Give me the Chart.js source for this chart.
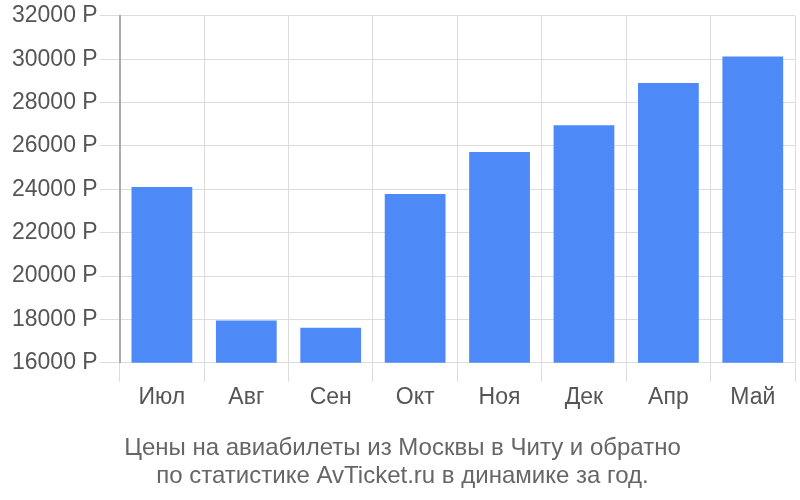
<!DOCTYPE html>
<html><head><meta charset="utf-8">
<script src="https://cdn.jsdelivr.net/npm/chart.js@4"></script>
<style>html,body{margin:0;padding:0;background:#fff}#w{width:800px;height:500px}</style>
</head><body><div id="w"><canvas id="c" width="800" height="500"></canvas></div>
<script>
const categories = ["Июл","Авг","Сен","Окт","Ноя","Дек","Апр","Май"];
const prices = [24100, 17950, 17620, 23780, 25720, 26950, 28900, 30120];
const yTicks = [16000,18000,20000,22000,24000,26000,28000,30000,32000];
const titleLines = ["Цены на авиабилеты из Москвы в Читу и обратно","по статистике AvTicket.ru в динамике за год."];
const FONT = 'Liberation Sans, Arial, sans-serif';

new Chart(document.getElementById('c'), {
  type: 'bar',
  data: { labels: categories, datasets: [{ data: prices, backgroundColor: '#4d8af8', borderWidth: 0 }] },
  options: {
    responsive: false, animation: false,
    layout: { padding: { left: 10, right: 5, top: 2, bottom: 9 } },
    plugins: {
      legend: { display: false }, tooltip: { enabled: false },
      title: { display: true, position: 'bottom', text: titleLines, color: '#666', font: { family: FONT, size: 24, weight: 'normal', lineHeight: 1.18 }, padding: { top: 21, bottom: 0 } }
    },
    scales: {
      x: {
        grid: { color: '#ddd', tickLength: 19, offset: true },
        border: { display: false },
        ticks: { color: '#555', font: { family: FONT, size: 23 }, padding: 2 }
      },
      y: {
        min: 16000, max: 32000,
        afterBuildTicks: (s) => { s.ticks = yTicks.map(v => ({ value: v })); },
        grid: { color: '#ddd', tickLength: 20 },
        border: { color: '#aaa', width: 2 },
        ticks: { color: '#555', font: { family: FONT, size: 23 }, padding: 2, callback: (v) => v + ' Р' }
      }
    }
  }
});
</script></body></html>
